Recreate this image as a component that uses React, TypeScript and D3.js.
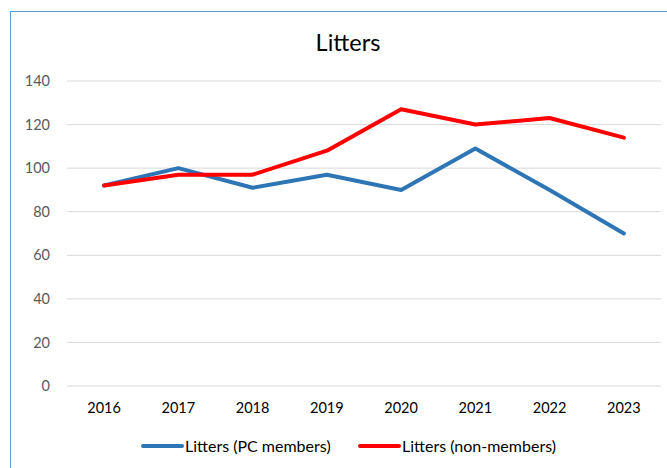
import React from "react";
import * as d3 from "d3";

const years = ["2016", "2017", "2018", "2019", "2020", "2021", "2022", "2023"];
const pcMembers = [92, 100, 91, 97, 90, 109, 90, 70];
const nonMembers = [92, 97, 97, 108, 127, 120, 123, 114];
const yTicks = [0, 20, 40, 60, 80, 100, 120, 140];
const seriesNames = ["Litters (PC members)", "Litters (non-members)"];
const seriesColors = ["#2E75B6", "#FF0000"];

const W = 667;
const H = 468;
const FONT = "Lato, 'Open Sans', sans-serif";

export default function App() {
  const x = d3.scaleBand<string>().domain(years).range([67, 661]);
  const y = d3.scaleLinear().domain([0, 140]).range([386, 81]);
  const line = d3
    .line<number>()
    .x((_, i) => (x(years[i]) ?? 0) + x.bandwidth() / 2)
    .y((d) => y(d));
  const series = [pcMembers, nonMembers];
  const legendX = [143, 360];

  return (
    <svg
      width={W}
      height={H}
      style={{ position: "absolute", left: 0, top: 0, background: "#fff" }}
    >
      <rect x={10.5} y={11.5} width={700} height={500} fill="#fff" stroke="#5B9BD5" strokeWidth={1} />
      <text x={348} y={51} textAnchor="middle" fontFamily={FONT} fontSize={23.5} fontWeight={400} fill="#000">
        Litters
      </text>
      {yTicks.map((t) => (
        <g key={t}>
          <line x1={67} x2={661} y1={y(t)} y2={y(t)} stroke="#D9D9D9" strokeWidth={1} />
          <text
            x={50}
            y={y(t)}
            dy="0.35em"
            textAnchor="end"
            fontFamily={FONT}
            fontSize={14.5}
            fill="#595959"
          >
            {t}
          </text>
        </g>
      ))}
      {years.map((yr) => (
        <text
          key={yr}
          x={(x(yr) ?? 0) + x.bandwidth() / 2}
          y={408}
          dy="0.35em"
          textAnchor="middle"
          fontFamily={FONT}
          fontSize={14.5}
          fill="#000"
        >
          {yr}
        </text>
      ))}
      {series.map((s, i) => (
        <path
          key={i}
          d={line(s) ?? ""}
          fill="none"
          stroke={seriesColors[i]}
          strokeWidth={4}
          strokeLinejoin="round"
          strokeLinecap="round"
        />
      ))}
      {seriesNames.map((name, i) => {
        const lx = legendX[i];
        return (
          <g key={name}>
            <line x1={lx} x2={lx + 39} y1={446} y2={446} stroke={seriesColors[i]} strokeWidth={4} strokeLinecap="round" />
            <text x={lx + 42} y={446} dy="0.35em" fontFamily={FONT} fontSize={16} fill="#000">
              {name}
            </text>
          </g>
        );
      })}
    </svg>
  );
}
